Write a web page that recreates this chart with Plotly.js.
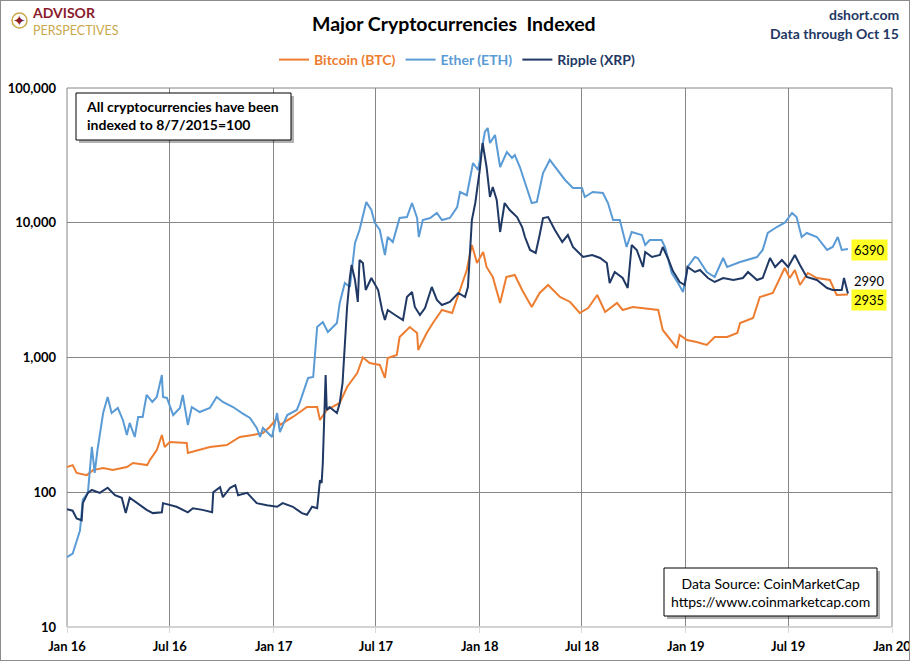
<!DOCTYPE html>
<html>
<head>
<meta charset="utf-8">
<script src="https://cdn.plot.ly/plotly-3.0.1.min.js"></script>
<style>
  body { margin: 0; background: #fff; }
  #wrap { position: relative; width: 910px; height: 661px; overflow: hidden; }
  #frame { position: absolute; left: 0; top: 0; width: 910px; height: 661px;
           box-sizing: border-box; border: 1px solid #8c8c8c; pointer-events: none; }
</style>
</head>
<body>
<div id="wrap">
  <div id="containerID" style="width:910px;height:661px;"></div>
  <div id="frame"></div>
</div>
<script>
// index values, 8/7/2015 = 100
var btcDates = ['2016-01-01','2016-01-11','2016-01-18','2016-02-05','2016-02-16','2016-03-05','2016-03-22','2016-04-16','2016-04-27','2016-05-22',
    '2016-05-27','2016-06-08','2016-06-17','2016-06-22','2016-07-01','2016-07-31','2016-08-02','2016-08-23','2016-09-10','2016-10-10',
    '2016-11-02','2016-11-25','2016-12-13','2016-12-25','2017-01-07','2017-01-12','2017-02-04','2017-03-01','2017-03-19','2017-03-24',
    '2017-04-05','2017-04-28','2017-05-11','2017-05-29','2017-06-08','2017-06-20','2017-07-08','2017-07-17','2017-07-22','2017-08-07',
    '2017-08-12','2017-08-30','2017-09-12','2017-09-14','2017-09-29','2017-10-10','2017-10-26','2017-11-13','2017-11-27','2017-12-09',
    '2017-12-18','2017-12-27','2018-01-07','2018-01-13','2018-01-24','2018-02-06','2018-02-17','2018-03-04','2018-03-17','2018-04-03',
    '2018-04-17','2018-05-02','2018-05-23','2018-06-10','2018-06-27','2018-07-12','2018-07-28','2018-08-11','2018-09-01','2018-09-11',
    '2018-09-29','2018-10-12','2018-11-13','2018-11-21','2018-12-04','2018-12-16','2018-12-21','2019-01-03','2019-01-20','2019-02-07',
    '2019-02-21','2019-03-15','2019-04-02','2019-04-07','2019-04-30','2019-05-12','2019-06-04','2019-06-25','2019-07-04','2019-07-13',
    '2019-07-22','2019-08-05','2019-08-21','2019-09-13','2019-09-25','2019-10-06','2019-10-15'];
var btcValues = [154,159,139,134,146,151,146,154,165,159,
    174,206,266,217,236,232,196,206,217,224,
    257,266,275,305,356,316,362,429,429,344,
    408,460,604,767,1000,911,880,705,992,1044,
    1419,1684,1520,1137,1520,1803,2252,2139,3169,4462,
    6838,5027,6067,4696,3957,2539,3957,4096,3169,2371,
    3011,3451,2812,2583,2139,2330,2910,2176,2539,2252,
    2371,2330,2252,1600,1349,1177,1469,1349,1303,1239,
    1419,1419,1520,1803,1964,2812,3011,4617,3890,4462,
    3451,4238,3890,3760,2910,2910,2935];

var ethDates = ['2016-01-01','2016-01-11','2016-01-24','2016-01-29','2016-02-07','2016-02-14','2016-02-19','2016-02-24','2016-03-05','2016-03-13',
    '2016-03-20','2016-03-31','2016-04-09','2016-04-16','2016-04-21','2016-04-30','2016-05-06','2016-05-14','2016-05-21','2016-05-31',
    '2016-06-08','2016-06-14','2016-06-17','2016-06-19','2016-06-26','2016-07-07','2016-07-19','2016-07-24','2016-08-02','2016-08-09',
    '2016-08-23','2016-09-10','2016-09-22','2016-10-03','2016-10-21','2016-11-06','2016-11-20','2016-12-02','2016-12-08','2016-12-13',
    '2016-12-29','2017-01-07','2017-01-12','2017-01-25','2017-02-11','2017-02-16','2017-03-03','2017-03-12','2017-03-19','2017-03-29',
    '2017-04-07','2017-04-23','2017-04-28','2017-05-07','2017-05-16','2017-05-25','2017-06-02','2017-06-14','2017-06-23','2017-06-29',
    '2017-07-08','2017-07-17','2017-07-22','2017-07-31','2017-08-07','2017-08-12','2017-08-25','2017-09-03','2017-09-12','2017-09-15',
    '2017-09-22','2017-10-05','2017-10-17','2017-10-26','2017-11-09','2017-11-22','2017-11-27','2017-12-09','2017-12-20','2017-12-29',
    '2018-01-10','2018-01-15','2018-01-19','2018-01-28','2018-02-06','2018-02-18','2018-02-27','2018-03-04','2018-03-13','2018-03-22',
    '2018-04-03','2018-04-12','2018-04-23','2018-05-05','2018-05-19','2018-06-01','2018-06-15','2018-07-01','2018-07-06','2018-07-20',
    '2018-08-07','2018-08-16','2018-08-25','2018-09-06','2018-09-18','2018-09-27','2018-10-15','2018-10-21','2018-10-29','2018-11-19',
    '2018-11-25','2018-12-07','2018-12-18','2018-12-27','2019-01-04','2019-01-17','2019-01-22','2019-02-07','2019-02-21','2019-03-08',
    '2019-03-15','2019-04-07','2019-05-07','2019-05-17','2019-05-26','2019-06-11','2019-06-25','2019-07-08','2019-07-16','2019-07-25',
    '2019-08-03','2019-08-21','2019-09-08','2019-09-18','2019-09-27','2019-10-04','2019-10-15'];
var ethValues = [33,35,52,88,99,217,139,206,387,509,
    387,422,344,266,327,257,362,362,527,468,
    509,681,742,509,501,374,422,527,316,429,
    394,422,509,468,429,387,356,300,257,300,
    257,387,280,374,408,460,705,717,1684,1834,
    1547,1803,2539,3572,3337,7075,8836,14260,12430,10000,
    8836,5765,7839,7197,9300,10845,11030,14015,10845,7839,
    10480,10845,11810,10480,10845,13090,16910,16000,27760,24630,
    47150,50500,39080,44800,25930,33510,30250,31830,25930,19720,
    14015,14260,23390,29230,24630,20770,18115,18115,15530,16910,
    16630,14015,10480,10480,6610,8540,8111,6838,7447,7447,
    6610,4238,3572,3063,4696,5569,5475,4311,3957,5475,
    4696,5113,5569,6280,8395,9300,10000,11810,11030,7839,
    8395,7839,6280,6610,7839,6280,6390];

var xrpDates = ['2016-01-01','2016-01-11','2016-01-18','2016-01-27','2016-01-29','2016-02-07','2016-02-14','2016-02-28','2016-03-13','2016-03-26',
    '2016-04-07','2016-04-14','2016-04-21','2016-05-04','2016-05-21','2016-06-01','2016-06-17','2016-06-19','2016-07-01','2016-07-13',
    '2016-08-02','2016-08-11','2016-08-28','2016-09-14','2016-09-16','2016-09-28','2016-10-03','2016-10-16','2016-10-25','2016-10-30',
    '2016-11-15','2016-12-02','2016-12-20','2017-01-07','2017-01-17','2017-02-04','2017-02-20','2017-03-01','2017-03-10','2017-03-19',
    '2017-03-24','2017-03-27','2017-03-29','2017-04-02','2017-04-03','2017-04-05','2017-04-10','2017-04-23','2017-04-28','2017-05-03',
    '2017-05-11','2017-05-16','2017-05-19','2017-05-25','2017-05-30','2017-06-02','2017-06-08','2017-06-13','2017-06-23','2017-07-05',
    '2017-07-12','2017-07-17','2017-07-22','2017-08-04','2017-08-18','2017-08-25','2017-09-03','2017-09-08','2017-09-17','2017-09-26',
    '2017-10-08','2017-10-17','2017-10-26','2017-11-09','2017-11-24','2017-12-06','2017-12-11','2017-12-18','2017-12-24','2018-01-01',
    '2018-01-06','2018-01-13','2018-01-19','2018-01-24','2018-01-31','2018-02-06','2018-02-14','2018-02-23','2018-03-08','2018-03-17',
    '2018-03-22','2018-03-31','2018-04-10','2018-04-17','2018-04-23','2018-05-02','2018-05-14','2018-05-27','2018-06-06','2018-06-15',
    '2018-07-03','2018-07-19','2018-08-02','2018-08-14','2018-08-19','2018-08-28','2018-09-11','2018-09-20','2018-09-27','2018-10-06',
    '2018-10-17','2018-10-21','2018-11-02','2018-11-16','2018-11-21','2018-11-30','2018-12-09','2018-12-21','2018-12-30','2019-01-04',
    '2019-01-17','2019-01-26','2019-02-09','2019-02-21','2019-03-08','2019-03-26','2019-04-12','2019-04-21','2019-05-07','2019-05-17',
    '2019-05-30','2019-06-08','2019-06-20','2019-07-01','2019-07-13','2019-07-22','2019-08-03','2019-08-21','2019-09-08','2019-09-18',
    '2019-10-04','2019-10-08','2019-10-15'];
var xrpValues = [75,73,64,62,83,99,104,99,108,95,
    91,70,91,83,74,70,71,83,80,78,
    71,76,74,71,100,109,92,108,113,95,
    99,83,80,78,83,78,70,68,78,76,
    123,117,165,509,742,408,429,387,460,647,
    2371,3957,4860,3760,2583,5292,5027,3169,3890,3169,
    2252,1898,2252,2068,1898,2812,3063,2371,2068,2330,
    3337,2672,2453,2583,3011,2812,3337,10480,14015,24630,
    39080,25930,15530,18430,14750,8540,14015,12430,11030,9300,
    7839,6280,5965,8111,10845,11030,8836,7197,8111,6610,
    5569,5765,5475,5027,3572,4311,3890,3280,6838,6280,
    4696,6067,5569,5765,6610,5475,4380,3634,3451,4696,
    4311,4462,3890,3634,3890,3760,3890,4311,3760,3890,
    5475,4696,5292,4696,5765,4860,3957,3760,3280,3169,
    3169,3890,2990];

var tickDates = ['2016-01-01','2016-07-01','2017-01-01','2017-07-01','2018-01-01','2018-07-01','2019-01-01','2019-07-01','2020-01-01'];
var tickLabels = ['Jan 16','Jul 16','Jan 17','Jul 17','Jan 18','Jul 18','Jan 19','Jul 19','Jan 20'];
var yTickValues = [10, 100, 1000, 10000, 100000];
var yTickLabels = ['10', '100', '1,000', '10,000', '100,000'];

var seriesNames = ['Bitcoin (BTC)', 'Ether (ETH)', 'Ripple (XRP)'];
var seriesColors = ['#ED7D31', '#5B9BD5', '#1F3864'];
var lastLabels = ['6390', '2990', '2935'];

var FONT = 'Lato, "Open Sans", "DejaVu Sans", sans-serif';

function makeTrace(dates, values, i)
{
    return {
        x: dates,
        y: values,
        type: 'scatter',
        mode: 'lines',
        name: '<span style="color:' + seriesColors[i] + '"><b>' + seriesNames[i] + '</b></span>',
        line: {color: seriesColors[i], width: 2},
        hoverinfo: 'x+y'
    };
}

var plotlyData = [
    makeTrace(btcDates, btcValues, 0),
    makeTrace(ethDates, ethValues, 1),
    makeTrace(xrpDates, xrpValues, 2)
];

// pixel -> paper helpers for the furniture around the plot (plot area is 67..892 x 88..627)
function px(x) { return (x - 67) / 825; }
function py(y) { return (627 - y) / 539; }

function box(x0, y0, x1, y1)
{
    return [
        {type: 'rect', xref: 'paper', yref: 'paper', layer: 'above',
         x0: px(x0 + 3), x1: px(x1 + 3), y0: py(y1 + 3), y1: py(y0 + 3),
         line: {width: 0}, fillcolor: 'rgba(0,0,0,0.3)'},
        {type: 'rect', xref: 'paper', yref: 'paper', layer: 'above',
         x0: px(x0), x1: px(x1), y0: py(y1), y1: py(y0),
         line: {color: '#000', width: 1}, fillcolor: '#fff'}
    ];
}

// free text placed by pixel position, always centre-anchored unless told otherwise
function label(text, x, y, size, color, xanchor, extra)
{
    var a = {text: text, xref: 'paper', yref: 'paper', x: px(x), y: py(y),
             xanchor: xanchor || 'center', yanchor: 'middle', showarrow: false,
             font: {family: FONT, size: size, color: color}};
    for (var k in extra) { a[k] = extra[k]; }
    return a;
}

var shapes = [
    // plot frame
    {type: 'rect', xref: 'paper', yref: 'paper', layer: 'below', x0: 0, x1: 1, y0: 0, y1: 1,
     line: {color: '#868686', width: 1}},
    {type: 'line', xref: 'paper', yref: 'paper', layer: 'above', x0: 0, x1: 1, y0: 0, y1: 0,
     line: {color: '#d9d9d9', width: 1.5}},
    // logo ring
    {type: 'circle', xref: 'paper', yref: 'paper', layer: 'above',
     x0: px(12), x1: px(27), y0: py(28), y1: py(13),
     line: {color: '#c9a94b', width: 1.5}, fillcolor: '#fff'}
].concat(box(76, 93, 291, 140)).concat(box(664, 568, 877, 616));

var logoText = '<span style="color:#8b1a2b;font-size:14px"><b>ADVISOR</b></span><br>' +
               '<span style="color:#c9a94b;font-size:12.5px">PERSPECTIVES</span>';

var annotations = [
    label('<b>Major Cryptocurrencies  Indexed</b>', 454, 24, 19.5, '#000'),
    label('<b>dshort.com</b>', 901, 15, 14, '#1F3864', 'right'),
    label('<b>Data through Oct 15</b>', 901, 33, 14, '#1F3864', 'right'),
    label('✦', 19.5, 20.5, 15, '#8b1a2b', 'center', {font: {family: '"DejaVu Sans", sans-serif', size: 15, color: '#8b1a2b'}}),
    label(logoText, 31, 21, 13, '#8b1a2b', 'left', {align: 'left', borderpad: 0}),
    label('<b>All cryptocurrencies have been<br>indexed to 8/7/2015=100</b>', 84, 115, 14, '#000', 'left', {align: 'left'}),
    label('Data Source: CoinMarketCap<br>https://www.coinmarketcap.com', 770, 592, 14, '#000', 'center', {align: 'center'}),
    label(lastLabels[0], 869, 250, 13, '#000', 'center', {bgcolor: 'rgba(255,255,0,0.85)', borderpad: 2}),
    label(lastLabels[1], 869, 281, 13, '#000'),
    label(lastLabels[2], 869, 300, 13, '#000', 'center', {bgcolor: 'rgba(255,255,0,0.85)', borderpad: 2})
];

var plotlyLayout = {
    width: 910,
    height: 661,
    margin: {l: 67, r: 18, t: 88, b: 34},
    paper_bgcolor: '#fff',
    plot_bgcolor: '#fff',
    font: {family: FONT, color: '#000'},
    showlegend: true,
    legend: {
        orientation: 'h',
        x: px(457), xanchor: 'center',
        y: py(60), yanchor: 'middle',
        font: {family: FONT, size: 14},
        itemwidth: 30,
        bgcolor: 'rgba(0,0,0,0)'
    },
    xaxis: {
        type: 'date',
        range: ['2016-01-01', '2020-01-01'],
        tickmode: 'array',
        tickvals: tickDates,
        ticktext: tickLabels,
        ticklabeloverflow: 'allow',
        showgrid: true,
        gridcolor: '#868686',
        gridwidth: 1,
        zeroline: false,
        showline: false,
        ticks: 'outside',
        ticklen: 5,
        tickcolor: '#d9d9d9',
        ticklabelstandoff: 2,
        tickfont: {family: FONT, size: 13, color: '#000', weight: 'bold'}
    },
    yaxis: {
        type: 'log',
        range: [1, 5],
        tickmode: 'array',
        tickvals: yTickValues,
        ticktext: yTickLabels,
        showgrid: true,
        gridcolor: '#868686',
        gridwidth: 1,
        zeroline: false,
        showline: false,
        ticks: '',
        ticklabelstandoff: 10,
        tickfont: {family: FONT, size: 13, color: '#000', weight: 'bold'}
    },
    shapes: shapes,
    annotations: annotations
};

var plotlyConfig = {
    displayModeBar: false,
    responsive: false,
    staticPlot: true
};

Plotly.newPlot('containerID', plotlyData, plotlyLayout, plotlyConfig);
</script>
</body>
</html>
